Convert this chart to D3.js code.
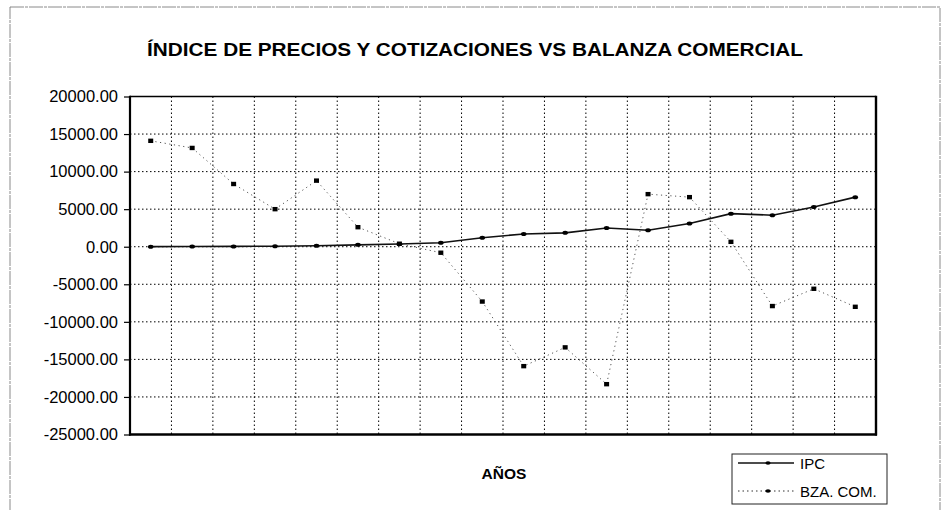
<!DOCTYPE html>
<html>
<head>
<meta charset="utf-8">
<script src="https://cdn.jsdelivr.net/npm/d3@7"></script>
<style>
  html, body { margin: 0; padding: 0; background: #fff; }
  svg { display: block; font-family: "Liberation Sans", Arial, sans-serif; }
</style>
</head>
<body>
<svg id="chart" width="945" height="510"></svg>
<script>
const categories = ["1","2","3","4","5","6","7","8","9","10","11","12","13","14","15","16","17","18"];
const ipcValues = [10, 20, 40, 70, 120, 250, 360, 530, 1200, 1700, 1850, 2500, 2200, 3100, 4400, 4200, 5300, 6600];
const bzaValues = [14100, 13150, 8350, 5000, 8800, 2600, 400, -800, -7300, -15900, -13400, -18300, 7000, 6600, 650, -7900, -5600, -8000];
const yTickValues = [20000, 15000, 10000, 5000, 0, -5000, -10000, -15000, -20000, -25000];
const yTickLabels = ["20000.00", "15000.00", "10000.00", "5000.00", "0.00", "-5000.00", "-10000.00", "-15000.00", "-20000.00", "-25000.00"];
const seriesNames = ["IPC", "BZA. COM."];
const titleText = "ÍNDICE DE PRECIOS Y COTIZACIONES VS BALANZA COMERCIAL";
const xTitleText = "AÑOS";

const svg = d3.select("#chart");
const plot = { left: 130, right: 876, top: 96.5, bottom: 434.5 };

// outer frame
svg.append("rect")
  .attr("x", 10).attr("y", 7).attr("width", 930).attr("height", 520)
  .attr("fill", "none").attr("stroke", "#8a8a8a").attr("stroke-width", 1)
  .attr("stroke-dasharray", "14,1,3,1");

const x = d3.scaleBand().domain(categories).range([plot.left, plot.right]);
const y = d3.scaleLinear().domain([-25000, 20000]).range([plot.bottom, plot.top]);

// title
svg.append("text")
  .attr("x", 475).attr("y", 56)
  .attr("text-anchor", "middle")
  .attr("font-size", 18).attr("font-weight", "bold")
  .attr("textLength", 656).attr("lengthAdjust", "spacingAndGlyphs")
  .text(titleText);

// grid: horizontal
const g = svg.append("g");
g.selectAll(".hgrid").data(yTickValues.filter(v => v !== 20000 && v !== -25000))
  .join("line")
  .attr("x1", plot.left).attr("x2", plot.right)
  .attr("y1", d => y(d)).attr("y2", d => y(d))
  .attr("stroke", "#000").attr("stroke-width", 1)
  .attr("stroke-dasharray", "1.5,2.5");

// grid: vertical at category boundaries
g.selectAll(".vgrid").data(categories.slice(1))
  .join("line")
  .attr("x1", d => x(d)).attr("x2", d => x(d))
  .attr("y1", plot.top).attr("y2", plot.bottom)
  .attr("stroke", "#000").attr("stroke-width", 1)
  .attr("stroke-dasharray", "1.5,2.5");

// y axis
const yAxis = d3.axisLeft(y)
  .tickValues(yTickValues)
  .tickSize(6)
  .tickPadding(6)
  .tickFormat((d, i) => yTickLabels[i]);
const ya = svg.append("g").attr("transform", `translate(${plot.left},0)`).call(yAxis);
ya.select(".domain").remove();
ya.selectAll(".tick line").attr("stroke", "#000").attr("stroke-width", 1.2);
ya.selectAll(".tick text")
  .attr("font-family", "'Liberation Sans', Arial, sans-serif")
  .attr("font-size", 16.5).attr("fill", "#000");

// plot frame
svg.append("line").attr("x1", plot.left).attr("x2", plot.right).attr("y1", plot.top).attr("y2", plot.top)
  .attr("stroke", "#000").attr("stroke-width", 1.6);
svg.append("line").attr("x1", plot.left).attr("x2", plot.left).attr("y1", plot.top - 0.8).attr("y2", plot.bottom + 1)
  .attr("stroke", "#000").attr("stroke-width", 2.2);
svg.append("line").attr("x1", plot.right).attr("x2", plot.right).attr("y1", plot.top - 0.8).attr("y2", plot.bottom + 1)
  .attr("stroke", "#000").attr("stroke-width", 2.4);
svg.append("line").attr("x1", plot.left - 1).attr("x2", plot.right + 1).attr("y1", plot.bottom).attr("y2", plot.bottom)
  .attr("stroke", "#000").attr("stroke-width", 2.4);

const cx = d => x(d) + x.bandwidth() / 2;

// BZA series (dotted)
const bzaData = categories.map((c, i) => ({ c, v: bzaValues[i] }));
svg.append("path").datum(bzaData)
  .attr("fill", "none").attr("stroke", "#555").attr("stroke-width", 1)
  .attr("stroke-dasharray", "1.2,3.5")
  .attr("d", d3.line().x(d => cx(d.c)).y(d => y(d.v)));
svg.selectAll(".bzam").data(bzaData).join("rect")
  .attr("x", d => cx(d.c) - 2.5).attr("y", d => y(d.v) - 2.2)
  .attr("width", 5).attr("height", 4.4)
  .attr("fill", "#000");

// IPC series (solid)
const ipcData = categories.map((c, i) => ({ c, v: ipcValues[i] }));
svg.append("path").datum(ipcData)
  .attr("fill", "none").attr("stroke", "#111").attr("stroke-width", 1.6)
  .attr("d", d3.line().x(d => cx(d.c)).y(d => y(d.v)));
svg.selectAll(".ipcm").data(ipcData).join("ellipse")
  .attr("cx", d => cx(d.c)).attr("cy", d => y(d.v))
  .attr("rx", 2.8).attr("ry", 2)
  .attr("fill", "#000");

// x-axis title
svg.append("text")
  .attr("x", 504).attr("y", 479)
  .attr("text-anchor", "middle")
  .attr("font-size", 15.5).attr("font-weight", "bold")
  .text(xTitleText);

// legend
const lg = svg.append("g");
lg.append("rect").attr("x", 732).attr("y", 454).attr("width", 155).attr("height", 50)
  .attr("fill", "#fff").attr("stroke", "#222").attr("stroke-width", 1);
const legendRows = [
  { name: seriesNames[0], y: 463, dash: null, w: 1.4, color: "#111" },
  { name: seriesNames[1], y: 491, dash: "1.5,3", w: 1, color: "#333" }
];
legendRows.forEach(r => {
  lg.append("line").attr("x1", 738).attr("x2", 794).attr("y1", r.y).attr("y2", r.y)
    .attr("stroke", r.color).attr("stroke-width", r.w)
    .attr("stroke-dasharray", r.dash);
  lg.append("ellipse").attr("cx", 768).attr("cy", r.y).attr("rx", 2.6).attr("ry", 1.8).attr("fill", "#000");
  lg.append("text").attr("x", 800).attr("y", r.y + 5.5)
    .attr("font-size", 15).text(r.name);
});
</script>
</body>
</html>
